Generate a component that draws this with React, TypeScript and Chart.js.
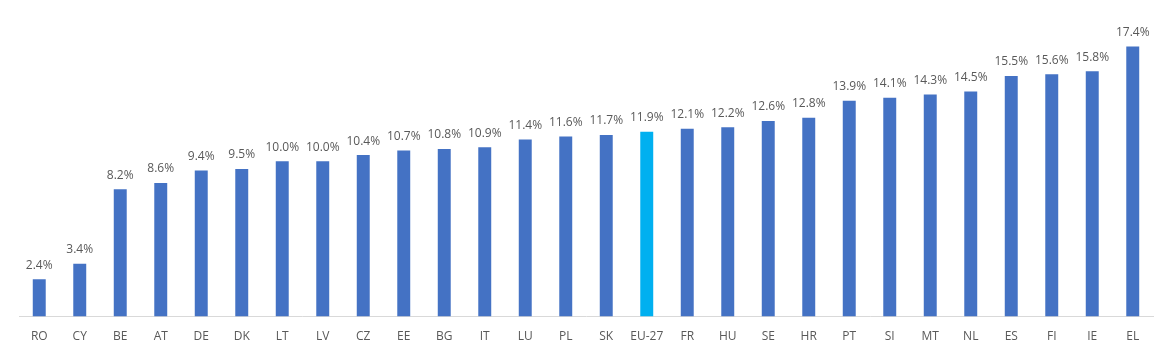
import React, { useEffect, useRef } from "react";
import { Chart, registerables } from "chart.js";

Chart.register(...registerables);

const categories = ["RO","CY","BE","AT","DE","DK","LT","LV","CZ","EE","BG","IT","LU","PL","SK","EU-27","FR","HU","SE","HR","PT","SI","MT","NL","ES","FI","IE","EL"];
const values = [2.4,3.4,8.2,8.6,9.4,9.5,10.0,10.0,10.4,10.7,10.8,10.9,11.4,11.6,11.7,11.9,12.1,12.2,12.6,12.8,13.9,14.1,14.3,14.5,15.5,15.6,15.8,17.4];
const highlight = "EU-27";

const FONT = "'Open Sans', 'DejaVu Sans', sans-serif";

const valueLabels = {
  id: "valueLabels",
  afterDatasetsDraw(chart: any) {
    const ctx = chart.ctx;
    const meta = chart.getDatasetMeta(0);
    ctx.save();
    ctx.font = `12px ${FONT}`;
    ctx.fillStyle = "#595959";
    ctx.textAlign = "center";
    ctx.textBaseline = "bottom";
    meta.data.forEach((bar: any, i: number) => {
      ctx.fillText(values[i].toFixed(1) + "%", bar.x, bar.y - 8);
    });
    ctx.restore();
  },
};

export default function App() {
  const ref = useRef<HTMLCanvasElement>(null);
  useEffect(() => {
    if (!ref.current) return;
    const chart = new Chart(ref.current, {
      type: "bar",
      data: {
        labels: categories,
        datasets: [
          {
            data: values,
            backgroundColor: categories.map((c) => (c === highlight ? "#00B0F0" : "#4472C4")),
            barPercentage: 0.64,
            categoryPercentage: 0.5,
          },
        ],
      },
      options: {
        animation: false,
        responsive: false,
        maintainAspectRatio: false,
        layout: { padding: { left: 19, right: 21, top: 6, bottom: 7 } },
        plugins: { legend: { display: false }, tooltip: { enabled: false } },
        scales: {
          x: {
            grid: { display: false },
            border: { display: true, color: "#D9D9D9", width: 1 },
            ticks: { color: "#595959", font: { family: FONT, size: 12 }, padding: 5, maxRotation: 0, autoSkip: false },
          },
          y: { display: false, min: 0, max: 20 },
        },
      },
      plugins: [valueLabels],
    });
    return () => chart.destroy();
  }, []);
  return (
    <div style={{ position: "absolute", left: 0, top: 0, width: 1174, height: 356, background: "#fff" }}>
      <canvas ref={ref} width={1174} height={356} style={{ width: 1174, height: 356 }} />
    </div>
  );
}
